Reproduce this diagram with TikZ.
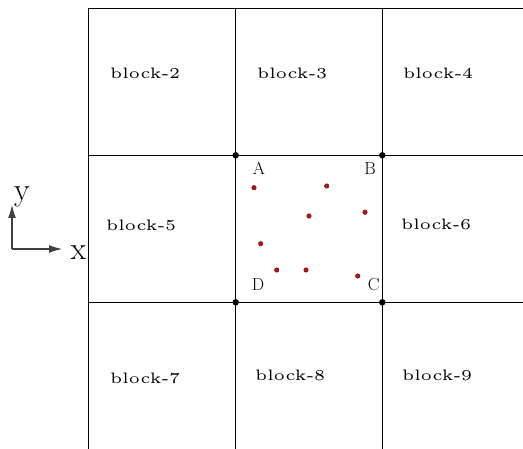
\documentclass[tikz,border=0pt]{standalone}
\usepackage{graphicx}
\usetikzlibrary{arrows.meta}
\newcommand{\blocktext}[1]{\resizebox{70pt}{10.5pt}{\tiny block-#1}}
\begin{document}
\begin{tikzpicture}[x=1pt,y=-1pt,
  gridline/.style={line width=1.3pt, black},
  corner/.style={circle, fill=black, inner sep=0pt, minimum size=6.5pt},
  pointdot/.style={circle, fill=red!90!black, draw=black!80, line width=0.6pt, inner sep=0pt, minimum size=4.4pt},
  blocklab/.style={inner sep=0pt, anchor=base west},
  cornerlab/.style={inner sep=0pt, anchor=base, font=\fontsize{17.5}{20}\selectfont},
  axislab/.style={inner sep=0pt, anchor=base, font=\fontsize{32}{36}\selectfont},
  axisline/.style={line width=1.1pt, black!75, -{Latex[length=13pt,width=8pt]}}]
\useasboundingbox (0,0) rectangle (523,449);
% grid coordinates
\coordinate (t1) at (88.5,8.3);
\coordinate (t2) at (235.7,8.3);
\coordinate (t3) at (382.3,8.3);
\coordinate (tr) at (523,8.3);
\coordinate (b1) at (88.5,449);
\coordinate (b2) at (235.7,449);
\coordinate (b3) at (382.3,449);
\coordinate (h1l) at (88.5,155.3);
\coordinate (h1r) at (523,155.3);
\coordinate (h2l) at (88.5,302.3);
\coordinate (h2r) at (523,302.3);
\draw[gridline] (t1) -- (tr);
\draw[gridline] (t1) -- (b1);
\draw[gridline] (t2) -- (b2);
\draw[gridline] (t3) -- (b3);
\draw[gridline] (h1l) -- (h1r);
\draw[gridline] (h2l) -- (h2r);
% corner dots
\node[corner] (cA) at (235.7,155.3) {};
\node[corner] (cB) at (382.3,155.3) {};
\node[corner] (cD) at (235.7,302.3) {};
\node[corner] (cC) at (382.3,302.3) {};
% corner labels
\node[cornerlab] (lA) at (258.9,175) {A};
\node[cornerlab] (lB) at (370,175) {B};
\node[cornerlab] (lD) at (258,290.7) {D};
\node[cornerlab] (lC) at (373.7,290.7) {C};
% red points
\node[pointdot] (p1) at (254.0,187.7) {};
\node[pointdot] (p2) at (326.7,186.0) {};
\node[pointdot] (p3) at (309.0,216.0) {};
\node[pointdot] (p4) at (365.0,212.3) {};
\node[pointdot] (p5) at (260.7,243.7) {};
\node[pointdot] (p6) at (276.7,270.0) {};
\node[pointdot] (p7) at (306.0,270.0) {};
\node[pointdot] (p8) at (357.7,276.0) {};
% block labels
\node[blocklab] (k2) at (110,79) {\blocktext{2}};
\node[blocklab] (k3) at (257,79) {\blocktext{3}};
\node[blocklab] (k4) at (403,79) {\blocktext{4}};
\node[blocklab] (k5) at (106,231) {\blocktext{5}};
\node[blocklab] (k6) at (401,230) {\blocktext{6}};
\node[blocklab] (k7) at (110,384) {\blocktext{7}};
\node[blocklab] (k8) at (255,381) {\blocktext{8}};
\node[blocklab] (k9) at (402,381) {\blocktext{9}};
% axes
\coordinate (o) at (12,249);
\coordinate (xe) at (62,249);
\coordinate (ye) at (12,205);
\draw[axisline] (o) -- (xe);
\draw[axisline] (o) -- (ye);
\node[axislab] (lx) at (78.5,260) {x};
\node[axislab] (ly) at (22,201) {y};
\end{tikzpicture}
\end{document}
